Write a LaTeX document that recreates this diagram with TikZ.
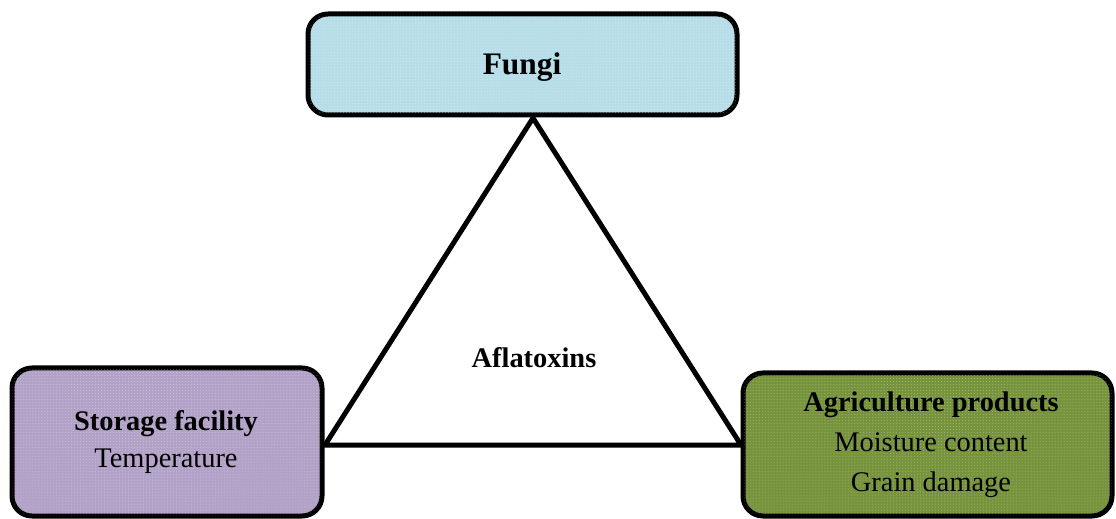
\documentclass[tikz,border=0pt]{standalone}
\usepackage{fontspec}
\setmainfont{Liberation Serif}
\usetikzlibrary{patterns}
\definecolor{fungiC}{HTML}{B7DEE8}
\definecolor{storC}{HTML}{B2A2C7}
\definecolor{agriC}{HTML}{77933C}
\begin{document}
\begin{tikzpicture}[x=1bp,y=-1bp,
  box/.style={draw=black,line width=5bp,rounded corners=20bp},
  dots/.style={postaction={pattern=dots,pattern color=white,opacity=0.35}},
  txt/.style={font=\fontsize{28.5}{38}\selectfont,align=center,inner sep=0pt}]
\useasboundingbox (0,0) rectangle (1116,519);
% boxes
\draw[box,fill=fungiC,dots] (308,14) rectangle (737,115);
\node[txt,font=\fontsize{31.5}{37}\selectfont\bfseries] (fungi) at (522,67) {Fungi};
\draw[box,fill=storC,dots] (12,368) rectangle (322,516);
\node[txt] (stor) at (166,442) {\textbf{Storage facility}\\Temperature};
\draw[box,fill=agriC,dots] (743,373) rectangle (1112,516);
\node[txt,font=\fontsize{28.5}{40}\selectfont] (agri) at (931,445) {\textbf{Agriculture products}\\Moisture content\\Grain damage};
% triangle
\coordinate (top) at (533,118);
\coordinate (bl) at (325,445);
\coordinate (br) at (741,445);
\draw[line width=5bp,line join=miter] (top) -- (bl) -- (br) -- cycle;
\node[txt,font=\fontsize{28.5}{34}\selectfont\bfseries] (afla) at (534,358) {Aflatoxins};
\end{tikzpicture}
\end{document}
